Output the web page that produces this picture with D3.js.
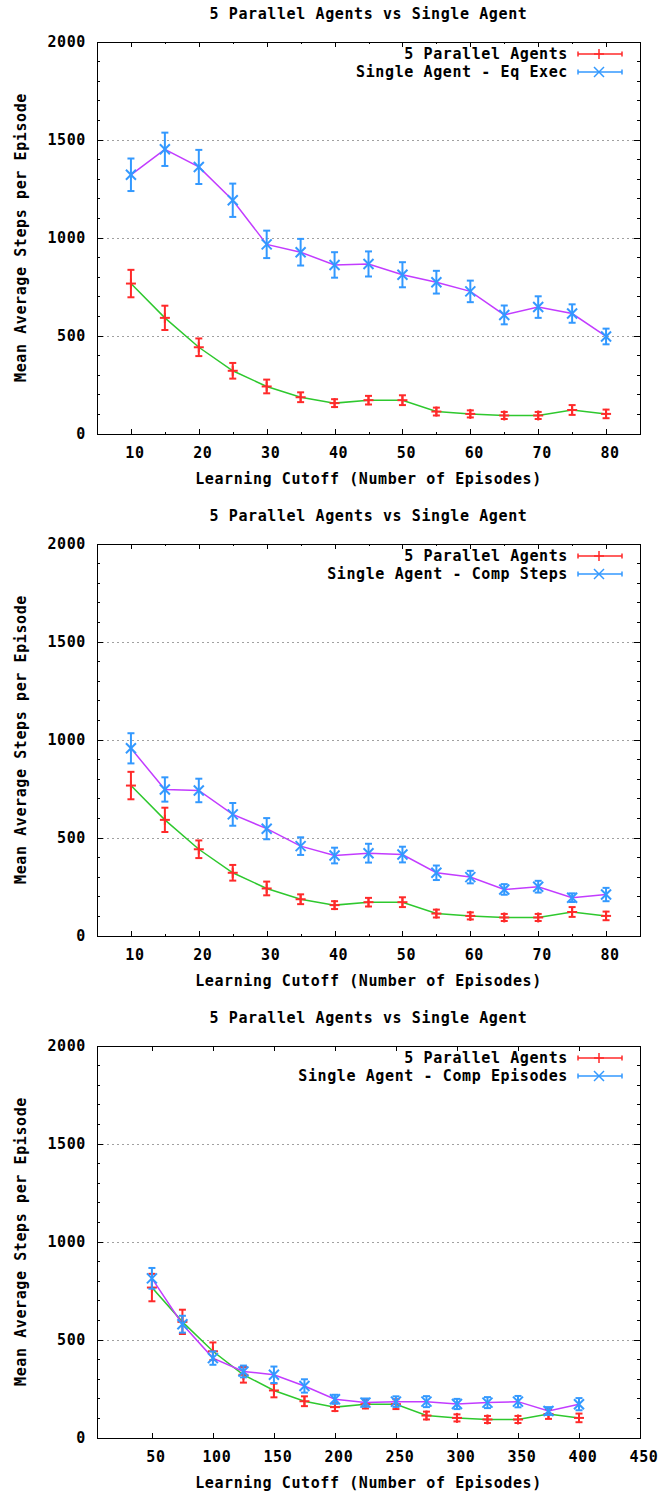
<!DOCTYPE html>
<html>
<head>
<meta charset="utf-8">
<script src="https://cdn.jsdelivr.net/npm/d3@7"></script>
<style>
  body { margin: 0; background: #fff; }
  svg text { font-family: "DejaVu Sans Mono", "Liberation Mono", monospace; font-weight: bold; font-size: 15px; letter-spacing: 0.6px; fill: #000; }
</style>
</head>
<body>
<div id="chart"></div>
<script>
// Learning cutoffs (episodes)
const cutoffs = [10, 15, 20, 25, 30, 35, 40, 45, 50, 55, 60, 65, 70, 75, 80];
const cutoffsComp = [50, 75, 100, 125, 150, 175, 200, 225, 250, 275, 300, 325, 350, 375, 400];

// 5 parallel agents (same in every panel)
const parallelMean = [765, 590, 440, 320, 240, 185, 155, 170, 170, 112, 100, 92, 92, 120, 100];
const parallelErr  = [70, 62, 45, 40, 35, 25, 20, 22, 25, 20, 18, 18, 18, 25, 22];

// single agent - equal execution
const eqExecMean = [1320, 1450, 1360, 1190, 965, 925, 860, 865, 810, 772, 725, 605, 645, 612, 495];
const eqExecErr  = [83, 85, 87, 85, 70, 68, 65, 64, 64, 58, 55, 48, 55, 47, 40];

// single agent - comparable steps
const compStepsMean = [955, 745, 740, 618, 545, 456, 408, 420, 413, 320, 298, 235, 249, 193, 209];
const compStepsErr  = [77, 62, 60, 58, 54, 45, 40, 48, 40, 37, 32, 27, 30, 22, 34];

// single agent - comparable episodes
const compEpisodesMean = [812, 578, 405, 337, 320, 263, 195, 178, 183, 183, 171, 178, 183, 135, 170];
const compEpisodesErr  = [53, 43, 34, 30, 42, 34, 23, 21, 27, 28, 26, 28, 29, 20, 31];

const yTicks = [0, 500, 1000, 1500, 2000];
const gridTicks = [500, 1000, 1500];
const xTicksEpisodes = [10, 20, 30, 40, 50, 60, 70, 80];
const xMinorEpisodes = [15, 25, 35, 45, 55, 65, 75];
const xTicksComp = [50, 100, 150, 200, 250, 300, 350, 400, 450];

const chartTitle = '5 Parallel Agents vs Single Agent';
const xTitle = 'Learning Cutoff (Number of Episodes)';
const yTitle = 'Mean Average Steps per Episode';
const parallelLabel = '5 Parallel Agents';
const singleLabels = ['Single Agent - Eq Exec', 'Single Agent - Comp Steps', 'Single Agent - Comp Episodes'];

const colors = { red: '#ff2a2a', green: '#2ec82e', blue: '#3399ff', magenta: '#c23cff' };

const W = 660, H = 1497;
const svg = d3.select('#chart').append('svg')
    .attr('width', W)
    .attr('height', H);

const margin = { left: 97, right: 640 };
const panelH = 392;
const panelStep = 502;
const firstTop = 41.5;

function toPoints(xs, means, errs) {
    return xs.map((x, i) => ({ x: x, y: means[i], e: errs[i] }));
}

function drawPanel(idx, xDomain, xTicks, xMinor, xs, singleMean, singleErr, singleLabel) {
    const top = firstTop + idx * panelStep;
    const bottom = top + panelH;
    const g = svg.append('g');

    const x = d3.scaleLinear().domain(xDomain).range([margin.left, margin.right]);
    const y = d3.scaleLinear().domain([0, 2000]).range([bottom, top]);

    // title
    g.append('text')
        .attr('x', (margin.left + margin.right) / 2)
        .attr('y', top - 27)
        .attr('text-anchor', 'middle')
        .attr('dominant-baseline', 'middle')
        .text(chartTitle);

    // grid lines
    g.selectAll('.grid')
        .data(gridTicks)
        .enter()
        .append('line')
        .attr('x1', margin.left)
        .attr('x2', margin.right)
        .attr('y1', d => Math.round(y(d)) + 0.5)
        .attr('y2', d => Math.round(y(d)) + 0.5)
        .attr('stroke', '#a0a0a0')
        .attr('stroke-width', 1)
        .attr('stroke-dasharray', '2,3');

    // y ticks: major every 500, minor every 100
    const yMinor = d3.range(100, 2000, 100).filter(v => v % 500 !== 0);
    const tickG = g.append('g').attr('stroke', '#000').attr('shape-rendering', 'crispEdges');
    yTicks.forEach(v => {
        const yy = Math.round(y(v)) + 0.5;
        tickG.append('line').attr('x1', margin.left).attr('x2', margin.left + 6).attr('y1', yy).attr('y2', yy);
        tickG.append('line').attr('x1', margin.right).attr('x2', margin.right - 6).attr('y1', yy).attr('y2', yy);
    });
    yMinor.forEach(v => {
        const yy = Math.round(y(v)) + 0.5;
        tickG.append('line').attr('x1', margin.left).attr('x2', margin.left + 3).attr('y1', yy).attr('y2', yy);
        tickG.append('line').attr('x1', margin.right).attr('x2', margin.right - 3).attr('y1', yy).attr('y2', yy);
    });
    xTicks.forEach(v => {
        const xx = Math.round(x(v)) + 0.5;
        tickG.append('line').attr('x1', xx).attr('x2', xx).attr('y1', bottom).attr('y2', bottom - 5);
        tickG.append('line').attr('x1', xx).attr('x2', xx).attr('y1', top).attr('y2', top + 5);
    });
    xMinor.forEach(v => {
        const xx = Math.round(x(v)) + 0.5;
        tickG.append('line').attr('x1', xx).attr('x2', xx).attr('y1', bottom).attr('y2', bottom - 2);
        tickG.append('line').attr('x1', xx).attr('x2', xx).attr('y1', top).attr('y2', top + 2);
    });

    // y tick labels
    g.selectAll('.ylab')
        .data(yTicks)
        .enter()
        .append('text')
        .attr('x', margin.left - 11)
        .attr('y', d => y(d) + 1)
        .attr('text-anchor', 'end')
        .attr('dominant-baseline', 'middle')
        .text(d => d);

    // x tick labels
    g.selectAll('.xlab')
        .data(xTicks)
        .enter()
        .append('text')
        .attr('x', d => x(d) + 4)
        .attr('y', bottom + 20)
        .attr('text-anchor', 'middle')
        .attr('dominant-baseline', 'middle')
        .text(d => d);

    // axis titles
    g.append('text')
        .attr('x', (margin.left + margin.right) / 2)
        .attr('y', bottom + 45.5)
        .attr('text-anchor', 'middle')
        .attr('dominant-baseline', 'middle')
        .text(xTitle);

    g.append('text')
        .attr('transform', `translate(21,${(top + bottom) / 2}) rotate(-90)`)
        .attr('text-anchor', 'middle')
        .attr('dominant-baseline', 'middle')
        .text(yTitle);

    const line = d3.line().x(d => x(d.x)).y(d => y(d.y));

    const parallel = toPoints(xs, parallelMean, parallelErr);
    const single = toPoints(xs, singleMean, singleErr);

    // connecting lines
    g.append('path').datum(parallel)
        .attr('d', line).attr('fill', 'none')
        .attr('stroke', colors.green).attr('stroke-width', 1.5);
    g.append('path').datum(single)
        .attr('d', line).attr('fill', 'none')
        .attr('stroke', colors.magenta).attr('stroke-width', 1.5);

    drawErrorBars(g, parallel, x, y, colors.red, 'plus');
    drawErrorBars(g, single, x, y, colors.blue, 'cross');

    // border
    g.append('rect')
        .attr('x', margin.left + 0.5)
        .attr('y', Math.round(top) + 0.5)
        .attr('width', margin.right - margin.left)
        .attr('height', panelH)
        .attr('fill', 'none')
        .attr('stroke', '#000')
        .attr('stroke-width', 1)
        .attr('shape-rendering', 'crispEdges');

    // legend
    const legendRows = [
        { label: parallelLabel, color: colors.red, marker: 'plus', dy: 12.5 },
        { label: singleLabel, color: colors.blue, marker: 'cross', dy: 30.5 }
    ];
    legendRows.forEach(r => {
        const ly = top + r.dy;
        g.append('text')
            .attr('x', 568)
            .attr('y', ly)
            .attr('text-anchor', 'end')
            .attr('dominant-baseline', 'middle')
            .text(r.label);
        const lg = g.append('g').attr('stroke', r.color).attr('stroke-width', 1.5);
        lg.append('line').attr('x1', 578).attr('x2', 622).attr('y1', ly).attr('y2', ly);
        lg.append('line').attr('x1', 578).attr('x2', 578).attr('y1', ly - 2.5).attr('y2', ly + 2.5);
        lg.append('line').attr('x1', 622).attr('x2', 622).attr('y1', ly - 2.5).attr('y2', ly + 2.5);
        drawMarker(lg, 599, ly, r.marker);
    });
}

function drawMarker(sel, cx, cy, type) {
    const s = 5;
    if (type === 'plus') {
        sel.append('line').attr('x1', cx - s).attr('x2', cx + s).attr('y1', cy).attr('y2', cy);
        sel.append('line').attr('x1', cx).attr('x2', cx).attr('y1', cy - s).attr('y2', cy + s);
    } else {
        sel.append('line').attr('x1', cx - s).attr('x2', cx + s).attr('y1', cy - s).attr('y2', cy + s);
        sel.append('line').attr('x1', cx - s).attr('x2', cx + s).attr('y1', cy + s).attr('y2', cy - s);
    }
}

function drawErrorBars(g, data, x, y, color, marker) {
    const eg = g.append('g').attr('stroke', color).attr('stroke-width', 2);
    const cap = 3.5;
    data.forEach(d => {
        const cx = x(d.x);
        const y0 = y(d.y - d.e), y1 = y(d.y + d.e);
        eg.append('line').attr('x1', cx).attr('x2', cx).attr('y1', y0).attr('y2', y1);
        eg.append('line').attr('x1', cx - cap).attr('x2', cx + cap).attr('y1', y0).attr('y2', y0);
        eg.append('line').attr('x1', cx - cap).attr('x2', cx + cap).attr('y1', y1).attr('y2', y1);
        drawMarker(eg, cx, y(d.y), marker);
    });
}

drawPanel(0, [5, 85], xTicksEpisodes, xMinorEpisodes, cutoffs, eqExecMean, eqExecErr, singleLabels[0]);
drawPanel(1, [5, 85], xTicksEpisodes, xMinorEpisodes, cutoffs, compStepsMean, compStepsErr, singleLabels[1]);
drawPanel(2, [5, 450], xTicksComp, [], cutoffsComp, compEpisodesMean, compEpisodesErr, singleLabels[2]);
</script>
</body>
</html>
